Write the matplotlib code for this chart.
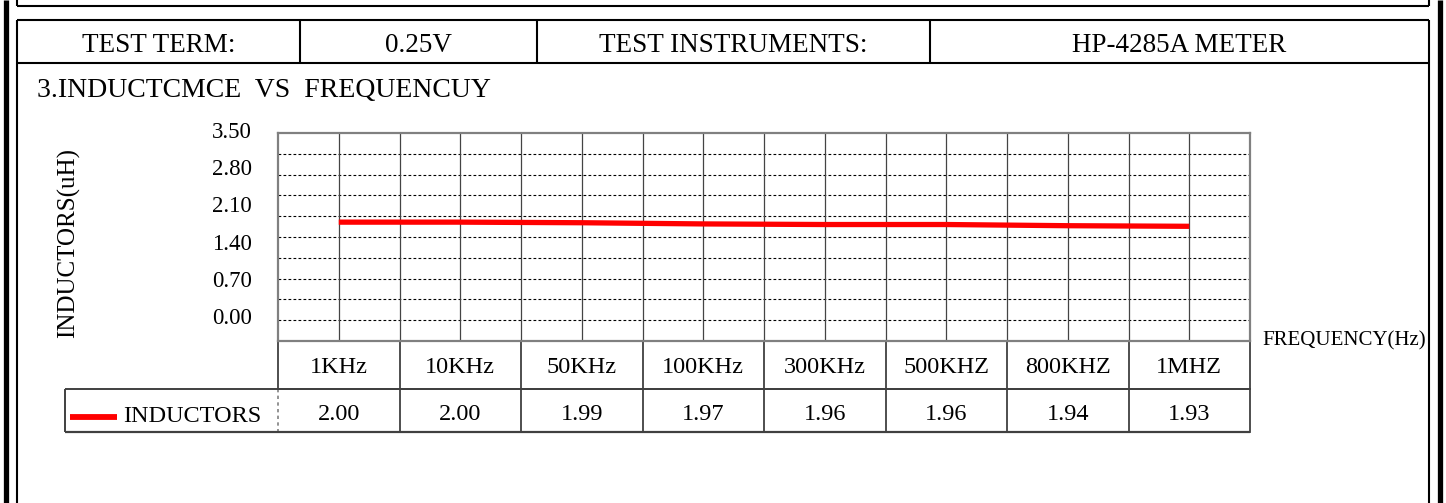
import numpy as np
import matplotlib
matplotlib.use("Agg")
import matplotlib.pyplot as plt
from matplotlib.lines import Line2D
from matplotlib.transforms import blended_transform_factory

# data
categories = ["1KHz", "10KHz", "50KHz", "100KHz", "300KHz", "500KHZ", "800KHZ", "1MHZ"]
inductors = [2.00, 2.00, 1.99, 1.97, 1.96, 1.96, 1.94, 1.93]
y_ticks = [0.00, 0.70, 1.40, 2.10, 2.80, 3.50]
header = ["TEST TERM:", "0.25V", "TEST INSTRUMENTS:", "HP-4285A METER"]
title = "3.INDUCTCMCE  VS  FREQUENCUY"

W, H = 1446, 503
plt.rcParams["font.family"] = ["Liberation Serif", "DejaVu Serif"]
fig = plt.figure(figsize=(W / 100, H / 100), dpi=100)


def fx(x):
    return x / W


def fy(y):
    return 1 - y / H


def line(xs, ys, lw=1.4, color="black", ls="-"):
    fig.add_artist(Line2D([fx(v) for v in xs], [fy(v) for v in ys],
                          lw=lw, color=color, ls=ls, solid_capstyle="butt"))


# outer frame
line([6.5, 6.5], [0, H], lw=3.8)
line([1440, 1440], [0, H], lw=3.8)
for xx in (17, 1429):
    line([xx, xx], [0, 6], lw=1.5)
    line([xx, xx], [20, H], lw=1.5)
line([17, 1429], [6, 6], lw=1.5)

# header row
line([17, 1429], [20, 20], lw=1.5)
line([17, 1429], [63, 63], lw=1.5)
edges = [17, 300, 537, 930, 1429]
for xx in edges[1:-1]:
    line([xx, xx], [20, 63], lw=1.5)
for i, t in enumerate(header):
    fig.text(fx((edges[i] + edges[i + 1]) / 2), fy(52), t, fontsize=19.5,
             ha="center", va="baseline")

fig.text(fx(37), fy(97), title, fontsize=20, ha="left", va="baseline")

# main plot
ax = fig.add_axes([fx(278), fy(341), (1250 - 278) / W, (341 - 133) / H])
n = len(categories)
x = np.arange(n)
ax.set_xlim(-0.5, n - 0.5)
ax.set_ylim(0, 3.5)
for v in np.arange(1, 10) * 0.35:
    ax.axhline(v, color="black", lw=0.8, ls=(0, (2.5, 2)), zorder=1)
for v in np.arange(0, n - 0.5, 0.5):
    ax.axvline(v, color="#444444", lw=0.9, zorder=1)
ax.plot(x, inductors, color="#ff0000", lw=3.8, solid_capstyle="butt", zorder=3)
ax.set_xticks([])
ax.set_yticks([])
for s in ax.spines.values():
    s.set_color("#808080")
    s.set_linewidth(1.6)

# y tick labels
lab = fig.add_axes([fx(278), fy(316), 0.001, (316 - 130) / H])
lab.set_ylim(0, 3.5)
lab.set_yticks(y_ticks)
lab.set_yticklabels(["%.2f" % v for v in y_ticks], fontsize=16.5)
lab.tick_params(axis="y", length=0, pad=19)
lab.set_xticks([])
for s in lab.spines.values():
    s.set_visible(False)
lab.patch.set_alpha(0)

fig.text(fx(69), fy(243), "INDUCTORS(uH)", fontsize=18, rotation=90,
         ha="center", va="center")
fig.text(fx(1262), fy(345), "FREQUENCY(Hz)", fontsize=15, ha="left", va="baseline")

# data table under the plot
tr = blended_transform_factory(ax.transData, fig.transFigure)
tc = "#404040"
ax.plot([-0.5, n - 0.5], [fy(389), fy(389)], transform=tr, color=tc, lw=1.4, clip_on=False)
line([65, 1250], [389, 389], lw=1.4, color=tc)
line([65, 1250], [432, 432], lw=1.6, color=tc)
line([65, 65], [389, 432], lw=1.4, color=tc)
for b in np.arange(-0.5, n, 1.0):
    ax.plot([b, b], [fy(341), fy(389)], transform=tr, color=tc, lw=1.3, clip_on=False)
    if b < 0:
        ax.plot([b, b], [fy(389), fy(432)], transform=tr, color="#808080", lw=1.2,
                ls=(0, (2, 2)), clip_on=False)
    else:
        ax.plot([b, b], [fy(389), fy(432)], transform=tr, color=tc, lw=1.3, clip_on=False)
for i, c in enumerate(categories):
    ax.text(i, fy(373), c, transform=tr, fontsize=17.5, ha="center", va="baseline")
    ax.text(i, fy(420), "%.2f" % inductors[i], transform=tr, fontsize=17.5,
            ha="center", va="baseline")

# legend cell
line([70, 117], [417, 417], lw=4.2, color="#ff0000")
fig.text(fx(123), fy(422), "INDUCTORS", fontsize=17.5, ha="left", va="baseline")

fig.savefig("out.png", dpi=100)
